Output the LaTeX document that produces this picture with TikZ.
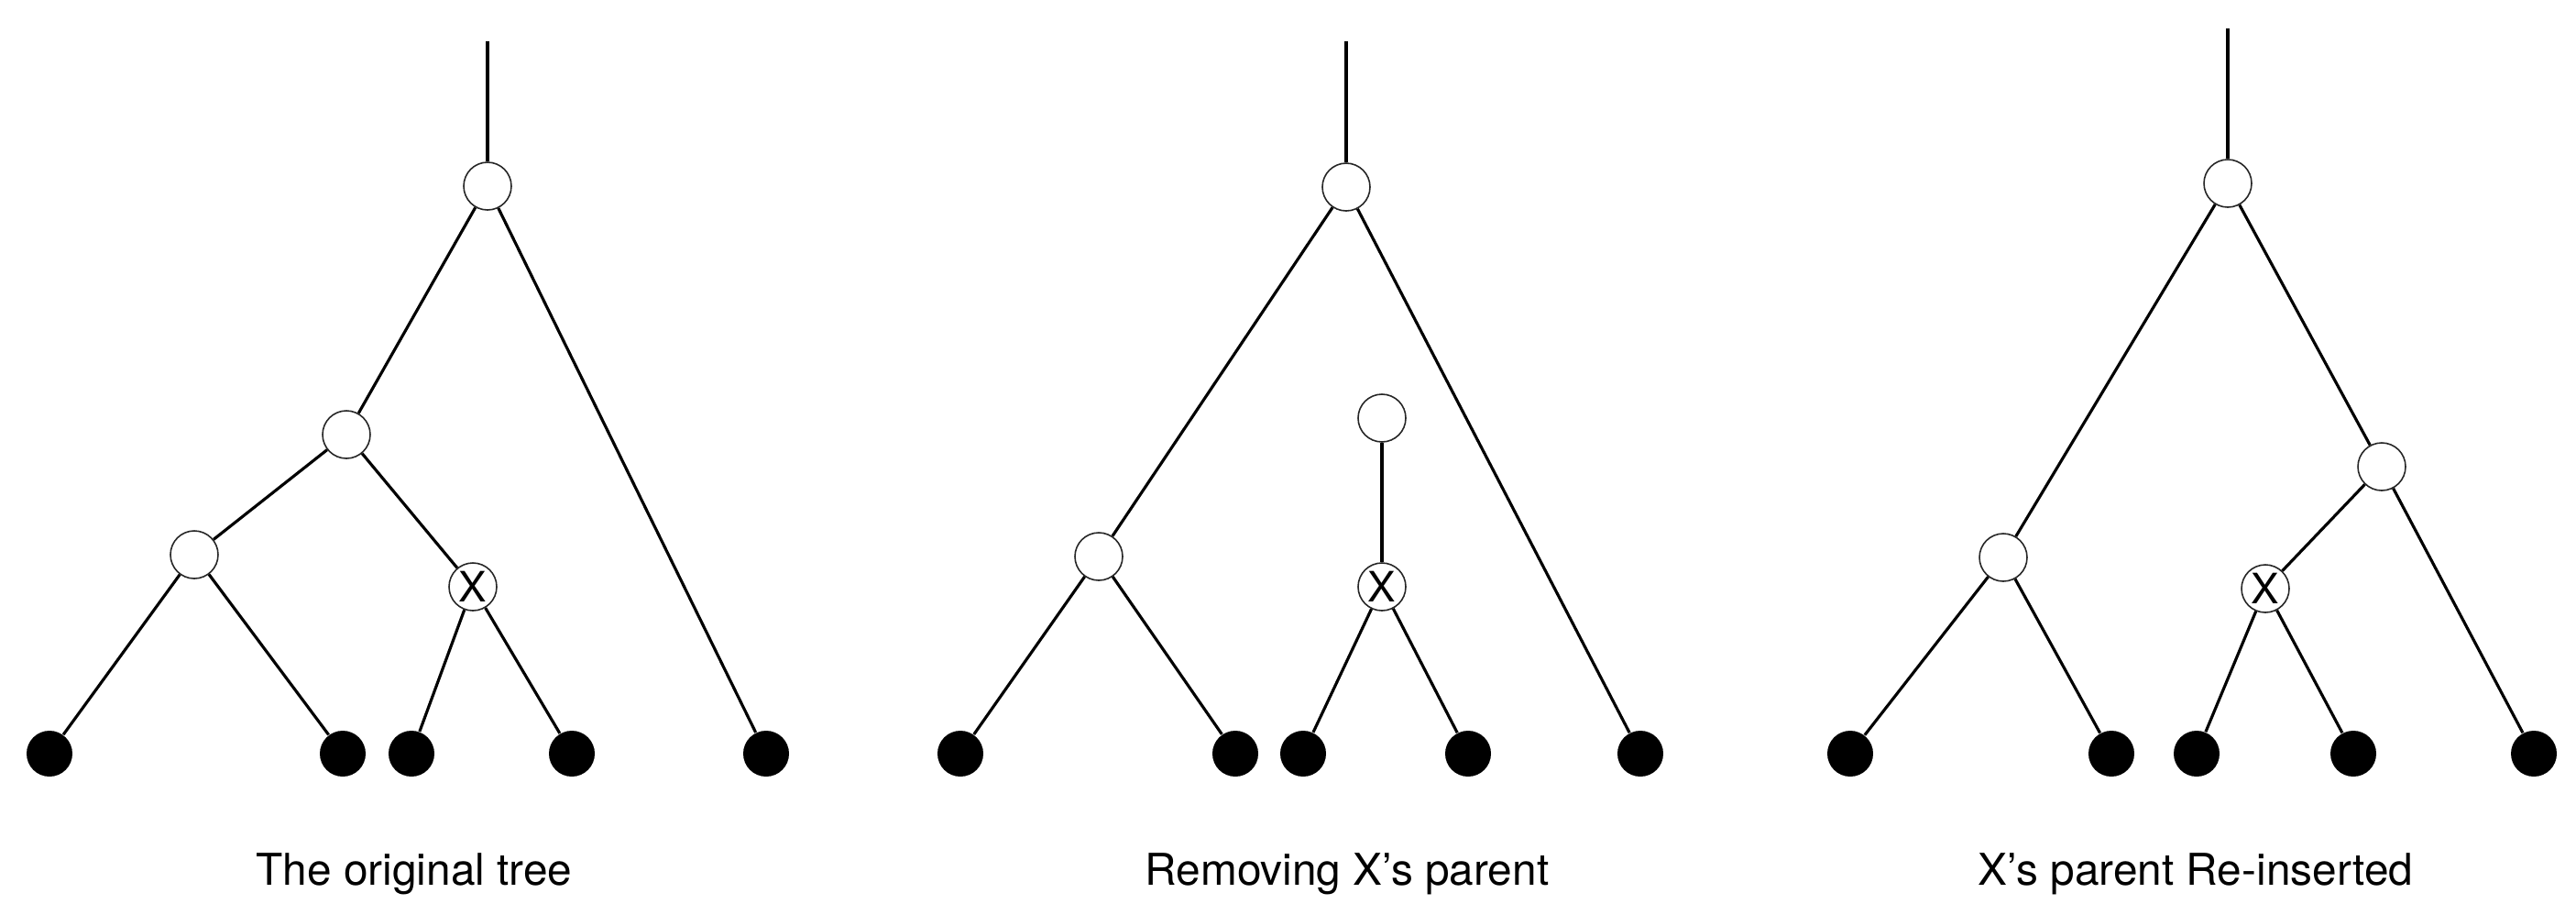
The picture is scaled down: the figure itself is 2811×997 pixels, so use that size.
\documentclass[tikz,border=0pt]{standalone}
\usepackage{fontspec}
\setmainfont{TeX Gyre Heros}
\begin{document}
\begin{tikzpicture}[x=0.1mm,y=-0.1mm,
  inner/.style={circle,draw=black!85,line width=0.45pt,fill=white,minimum size=5.2mm,inner sep=0pt},
  xnode/.style={inner,font=\fontsize{13}{14}\selectfont},
  leaf/.style={circle,fill=black,draw=none,minimum size=5.0mm,inner sep=0pt},
  edge/.style={line width=0.9pt,black},
  caption/.style={anchor=base,font=\fontsize{13.6}{16}\selectfont}]
\useasboundingbox (0,0) rectangle (2811,997);

% ---------- Tree 1: the original tree ----------
\coordinate (t1) at (532,45);
\node[inner] (r1) at (532,203) {};
\node[inner] (a1) at (378,474) {};
\node[inner] (b1) at (212,605) {};
\node[xnode] (x1) at (516,640) {X};
\node[leaf] (l11) at (54,822) {};
\node[leaf] (l12) at (374,822) {};
\node[leaf] (l13) at (449,822) {};
\node[leaf] (l14) at (624,822) {};
\node[leaf] (l15) at (836,822) {};
\draw[edge] (t1) -- (r1);
\draw[edge] (r1) -- (a1);
\draw[edge] (r1) -- (l15);
\draw[edge] (a1) -- (b1);
\draw[edge] (a1) -- (x1);
\draw[edge] (b1) -- (l11);
\draw[edge] (b1) -- (l12);
\draw[edge] (x1) -- (l13);
\draw[edge] (x1) -- (l14);
\node[caption] (c1) at (452,965) {The original tree};

% ---------- Tree 2: removing X's parent ----------
\coordinate (t2) at (1469,45);
\node[inner] (r2) at (1469,204) {};
\node[inner] (b2) at (1199,607) {};
\node[inner] (p2) at (1508,456) {};
\node[xnode] (x2) at (1508,640) {X};
\node[leaf] (l21) at (1048,822) {};
\node[leaf] (l22) at (1348,822) {};
\node[leaf] (l23) at (1422,822) {};
\node[leaf] (l24) at (1602,822) {};
\node[leaf] (l25) at (1790,822) {};
\draw[edge] (t2) -- (r2);
\draw[edge] (r2) -- (b2);
\draw[edge] (r2) -- (l25);
\draw[edge] (p2) -- (x2);
\draw[edge] (b2) -- (l21);
\draw[edge] (b2) -- (l22);
\draw[edge] (x2) -- (l23);
\draw[edge] (x2) -- (l24);
\node[caption] (c2) at (1470,965) {Removing X’s parent};

% ---------- Tree 3: X's parent re-inserted ----------
\coordinate (t3) at (2431,31);
\node[inner] (r3) at (2431,200) {};
\node[inner] (b3) at (2186,608) {};
\node[inner] (p3) at (2599,509) {};
\node[xnode] (x3) at (2472,642) {X};
\node[leaf] (l31) at (2019,822) {};
\node[leaf] (l32) at (2304,822) {};
\node[leaf] (l33) at (2397,822) {};
\node[leaf] (l34) at (2568,822) {};
\node[leaf] (l35) at (2765,822) {};
\draw[edge] (t3) -- (r3);
\draw[edge] (r3) -- (b3);
\draw[edge] (r3) -- (p3);
\draw[edge] (p3) -- (x3);
\draw[edge] (p3) -- (l35);
\draw[edge] (b3) -- (l31);
\draw[edge] (b3) -- (l32);
\draw[edge] (x3) -- (l33);
\draw[edge] (x3) -- (l34);
\node[caption] (c3) at (2396,965) {X’s parent Re-inserted};
\end{tikzpicture}
\end{document}
